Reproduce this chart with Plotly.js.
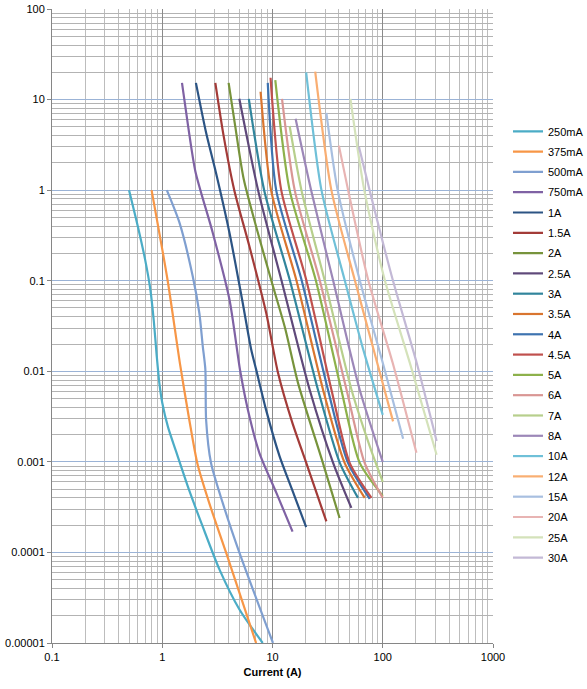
<!DOCTYPE html>
<html>
<head>
<meta charset="utf-8">
<script src="https://cdn.plot.ly/plotly-3.0.1.min.js"></script>
<style>
  html, body { margin: 0; padding: 0; background: #fff; }
  #chart { width: 587px; height: 689px; }
</style>
</head>
<body>
<div id="chart"></div>
<script>
'use strict';

// Fuse ratings, legend order
const ratings = ['250mA', '375mA', '500mA', '750mA', '1A', '1.5A', '2A', '2.5A', '3A', '3.5A', '4A',
                 '4.5A', '5A', '6A', '7A', '8A', '10A', '12A', '15A', '20A', '25A', '30A'];

// Current (A) / melting time (s)
const amps_250mA = [0.5, 0.6, 0.7, 0.78, 0.84, 0.89, 0.94, 1.0, 1.13, 1.33, 1.76, 2.32, 3.3, 5.0, 8.15];
const secs_250mA = [1, 0.4, 0.17, 0.08, 0.035, 0.015, 0.0075, 0.0045, 0.0024, 0.00132, 0.00048, 0.000195, 0.000065, 0.0000236, 0.00001];

const amps_375mA = [0.8, 1.12, 1.45, 1.76, 2.09, 2.67, 3.79, 7.1];
const secs_375mA = [1, 0.1, 0.012, 0.0029, 0.00094, 0.00035, 0.0001, 0.00001];

const amps_500mA = [1.1, 1.43, 1.89, 2.17, 2.33, 2.46, 2.5, 2.77, 3.54, 5.0, 10.1];
const secs_500mA = [1, 0.44, 0.112, 0.044, 0.019, 0.0105, 0.0029, 0.00097, 0.00035, 0.0001, 0.00001];

const amps_750mA = [1.51, 1.72, 2.0, 2.87, 4.07, 5.1, 6.0, 7.6, 10.8, 15.2];
const secs_750mA = [15.3, 5, 1.6, 0.339, 0.062, 0.01, 0.0037, 0.00126, 0.00046, 0.00017];

const amps_1A = [2.02, 2.5, 3.07, 4.07, 5.3, 6.4, 7.1, 8.77, 11.6, 15, 20.2];
const secs_1A = [15.3, 4.3, 1.56, 0.339, 0.062, 0.0175, 0.0105, 0.0037, 0.00115, 0.0005, 0.00019];

const amps_1_5A = [3.03, 3.6, 4.5, 6.17, 8.77, 11.2, 15, 20.2, 30.8];
const secs_1_5A = [15.3, 4, 1, 0.24, 0.044, 0.0097, 0.0028, 0.00098, 0.00022];

const amps_2A = [4.0, 4.6, 5.5, 9.7, 13, 17, 28.6, 40.6];
const secs_2A = [15.3, 5, 1.3, 0.103, 0.03, 0.0075, 0.00098, 0.00024];

const amps_2_5A = [5.0, 7.4, 12, 21.7, 35.4, 51.9];
const secs_2_5A = [10.2, 1, 0.103, 0.0063, 0.00098, 0.00031];

const amps_3A = [6.1, 8.4, 14.3, 25.8, 40.7, 59.6];
const secs_3A = [10.2, 1, 0.103, 0.0063, 0.00098, 0.0004];

const amps_3_5A = [7.8, 9.7, 16.4, 28.7, 45, 68.6];
const secs_3_5A = [12.2, 1, 0.103, 0.0063, 0.00098, 0.0004];

const amps_4A = [9.06, 10.8, 18.3, 31.8, 48.3, 76.2];
const secs_4A = [15.3, 1, 0.103, 0.0063, 0.00098, 0.00039];

const amps_4_5A = [9.6, 12, 20.2, 34.2, 50, 79];
const secs_4_5A = [17.4, 1, 0.103, 0.0063, 0.00098, 0.0004];

const amps_5A = [10.6, 14.3, 24.6, 42, 61.7, 100];
const secs_5A = [16.4, 1, 0.103, 0.0063, 0.00098, 0.00042];

const amps_6A = [12.2, 15.9, 26.7, 46.9, 68.4, 100];
const secs_6A = [10.2, 1, 0.103, 0.0063, 0.00098, 0.0004];

const amps_7A = [14.3, 18.3, 29.6, 52, 76, 100];
const secs_7A = [5.1, 1, 0.103, 0.0063, 0.0015, 0.0006];

const amps_8A = [16.2, 22.4, 35.3, 61.7, 100];
const secs_8A = [6.15, 1, 0.103, 0.0063, 0.001];

const amps_10A = [20.2, 27.8, 45, 66, 100];
const secs_10A = [20, 1, 0.103, 0.018, 0.0033];

const amps_12A = [24.4, 34.2, 55.6, 82, 124];
const secs_12A = [20.4, 1, 0.103, 0.018, 0.0028];

const amps_15A = [30.8, 39, 61.6, 100, 153];
const secs_15A = [7.15, 1, 0.103, 0.0124, 0.0018];

const amps_20A = [40, 48.5, 73.6, 123, 202];
const secs_20A = [3.1, 1, 0.103, 0.0124, 0.00126];

const amps_25A = [50.9, 68, 104, 176, 308];
const secs_25A = [10.2, 1, 0.103, 0.0124, 0.0012];

const amps_30A = [60.9, 76, 123, 203, 308];
const secs_30A = [3.0, 1, 0.103, 0.0124, 0.0017];

const amps = [amps_250mA, amps_375mA, amps_500mA, amps_750mA, amps_1A, amps_1_5A, amps_2A, amps_2_5A,
              amps_3A, amps_3_5A, amps_4A, amps_4_5A, amps_5A, amps_6A, amps_7A, amps_8A,
              amps_10A, amps_12A, amps_15A, amps_20A, amps_25A, amps_30A];
const secs = [secs_250mA, secs_375mA, secs_500mA, secs_750mA, secs_1A, secs_1_5A, secs_2A, secs_2_5A,
              secs_3A, secs_3_5A, secs_4A, secs_4_5A, secs_5A, secs_6A, secs_7A, secs_8A,
              secs_10A, secs_12A, secs_15A, secs_20A, secs_25A, secs_30A];

const colors = ['#4BACC6', '#F79646', '#7F9FD0', '#7F62A4', '#2C5484', '#A33B38', '#77933C', '#5F497A',
                '#31859C', '#D9752F', '#3E73B0', '#C0504D', '#8DB14B', '#D99694', '#B7CF8C', '#9C87B8',
                '#6FC0D8', '#F9AE72', '#A8BFE0', '#E8B4B3', '#D4E2BA', '#C3B9D6'];

const xTicks = [0.1, 1, 10, 100, 1000];
const xTickText = ['0.1', '1', '10', '100', '1000'];
const yTicks = [0.00001, 0.0001, 0.001, 0.01, 0.1, 1, 10, 100];
const yTickText = ['0.00001', '0.0001', '0.001', '0.01', '0.1', '1', '10', '100'];

// 2..9 minor gridlines inside each decade
function minorVals(lo, hi) {
    const out = [];
    for (let e = lo; e < hi; e++) {
        for (let m = 2; m <= 9; m++) out.push(m * Math.pow(10, e));
    }
    return out;
}

const traces = ratings.map((name, i) => ({
    x: amps[i], y: secs[i],
    type: 'scatter', mode: 'lines', name,
    legendgroup: name,
    line: { color: colors[i], width: 2.2, shape: 'spline', smoothing: 0.7 },
    hoverinfo: 'x+y+name',
}));

const FONT = 'Liberation Sans, Arial, sans-serif';

const layout = {
    width: 587, height: 689,
    margin: { l: 52, r: 94, t: 9, b: 46, autoexpand: false },
    paper_bgcolor: '#fff', plot_bgcolor: '#fff',
    font: { family: FONT, size: 11, color: '#000' },
    showlegend: true,
    legend: {
        x: 1.034, xanchor: 'left', y: 0.83, yanchor: 'top',
        font: { family: FONT, size: 11, color: '#000' },
        tracegroupgap: 1.3, traceorder: 'grouped',
        bgcolor: 'rgba(0,0,0,0)',
    },
    xaxis: {
        type: 'log', range: [-1, 3],
        tickmode: 'array', tickvals: xTicks, ticktext: xTickText,
        ticks: 'outside', ticklen: 4, tickcolor: '#868686',
        showline: true, linecolor: '#868686', linewidth: 1,
        showgrid: true, gridcolor: '#8a8a8a', gridwidth: 1,
        minor: { tickmode: 'array', tickvals: minorVals(-1, 3), showgrid: true, gridcolor: '#bdbdbd', gridwidth: 1, ticks: '' },
        tickfont: { family: FONT, size: 11, color: '#000' },
        title: { text: '<b>Current (A)</b>', font: { family: FONT, size: 11, color: '#000' }, standoff: 6 },
        zeroline: false,
    },
    yaxis: {
        type: 'log', range: [-5, 2],
        tickmode: 'array', tickvals: yTicks, ticktext: yTickText,
        ticks: 'outside', ticklen: 4, tickcolor: '#868686',
        showline: true, linecolor: '#868686', linewidth: 1,
        showgrid: true, gridcolor: '#9bb3d6', gridwidth: 1,
        minor: { tickmode: 'array', tickvals: minorVals(-5, 2), showgrid: true, gridcolor: '#b3b3b3', gridwidth: 1, ticks: '' },
        tickfont: { family: FONT, size: 11, color: '#000' },
        zeroline: false,
    },
};

Plotly.newPlot('chart', traces, layout, { displayModeBar: false, staticPlot: true });
</script>
</body>
</html>
